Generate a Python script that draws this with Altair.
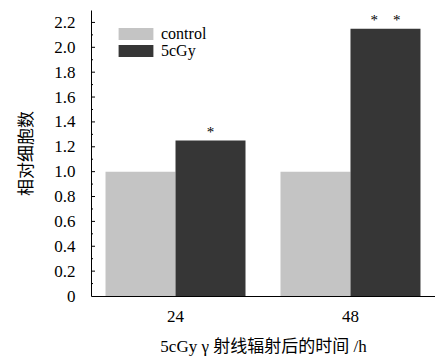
import altair as alt
import pandas as pd

times = ["24", "24", "48", "48"]
groups = ["control", "5cGy", "control", "5cGy"]
values = [1.0, 1.25, 1.0, 2.15]
sig = ["", "*", "", "*\u00a0\u00a0\u00a0\u00a0*"]

major_ticks = [0.2, 0.4, 0.6, 0.8, 1.0, 1.2, 1.4, 1.6, 1.8, 2.0, 2.2]
minor_ticks = [0.1, 0.3, 0.5, 0.7, 0.9, 1.1, 1.3, 1.5, 1.7, 1.9, 2.1]
y_tick_values = [0, 0.2, 0.4, 0.6, 0.8, 1.0, 1.2, 1.4, 1.6, 1.8, 2.0, 2.2]

df = pd.DataFrame({"time": times, "group": groups, "value": values, "sig": sig})
df_major = pd.DataFrame({"v": major_ticks})
df_minor = pd.DataFrame({"v": minor_ticks})

SERIF = "Liberation Serif, Noto Sans CJK SC"

yscale = alt.Scale(domain=[0, 2.3], nice=False, zero=True)
yaxis = alt.Axis(
    title="相对细胞数",
    values=y_tick_values,
    labelExpr="datum.value == 0 ? '0' : format(datum.value, '.1f')",
    labelOverlap=False,
    labelFlush=False,
    tickSize=0,
    labelPadding=16,
    titlePadding=18,
    domainColor="black",
    grid=False,
)
xscale = alt.Scale(paddingInner=0.2, paddingOuter=0.083)
xaxis = alt.Axis(
    title="5cGy γ 射线辐射后的时间 /h",
    labelAngle=0,
    tickSize=0,
    labelPadding=12,
    titlePadding=14,
    domainColor="black",
)
xoff = alt.XOffset("group:N", sort=["control", "5cGy"],
                   scale=alt.Scale(paddingInner=0, paddingOuter=0))

bars = alt.Chart(df).mark_bar().encode(
    x=alt.X("time:N", scale=xscale, axis=xaxis),
    xOffset=xoff,
    y=alt.Y("value:Q", scale=yscale, axis=yaxis),
    color=alt.Color(
        "group:N",
        sort=["control", "5cGy"],
        scale=alt.Scale(domain=["control", "5cGy"], range=["#c4c4c4", "#363636"]),
        legend=alt.Legend(
            title=None,
            orient="none",
            legendX=37,
            legendY=16,
            symbolType="M-2.9,-1H2.9V1H-2.9Z",
            symbolSize=144,
            symbolStrokeWidth=0,
            labelOffset=17,
            labelFontSize=16,
            labelFont=SERIF,
            labelColor="black",
            rowPadding=1,
            padding=0,
        ),
    ),
)

stars = alt.Chart(df).mark_text(
    baseline="bottom", dy=-1, fontSize=15, font=SERIF, color="black"
).encode(
    x=alt.X("time:N", scale=xscale, axis=xaxis),
    xOffset=xoff,
    y=alt.Y("value:Q", scale=yscale, axis=yaxis),
    text="sig:N",
)

maj = alt.Chart(df_major).mark_rule(color="black", strokeWidth=1).encode(
    x=alt.value(0), x2=alt.value(4), y=alt.Y("v:Q", scale=yscale, axis=yaxis)
)
mnr = alt.Chart(df_minor).mark_rule(color="black", strokeWidth=1).encode(
    x=alt.value(0), x2=alt.value(2), y=alt.Y("v:Q", scale=yscale, axis=yaxis)
)

chart = alt.layer(bars, stars, maj, mnr).properties(
    width=344,
    height=286,
    autosize=alt.AutoSizeParams(type="none"),
    padding={"left": 91, "top": 10, "right": 0, "bottom": 62},
).configure_view(stroke=None).configure_axis(
    labelFont=SERIF,
    titleFont=SERIF,
    labelFontSize=17,
    titleFontSize=17,
    titleFontWeight="normal",
    labelColor="black",
    titleColor="black",
)

chart.save("out.html", embed_options={"renderer": "svg", "actions": False})
